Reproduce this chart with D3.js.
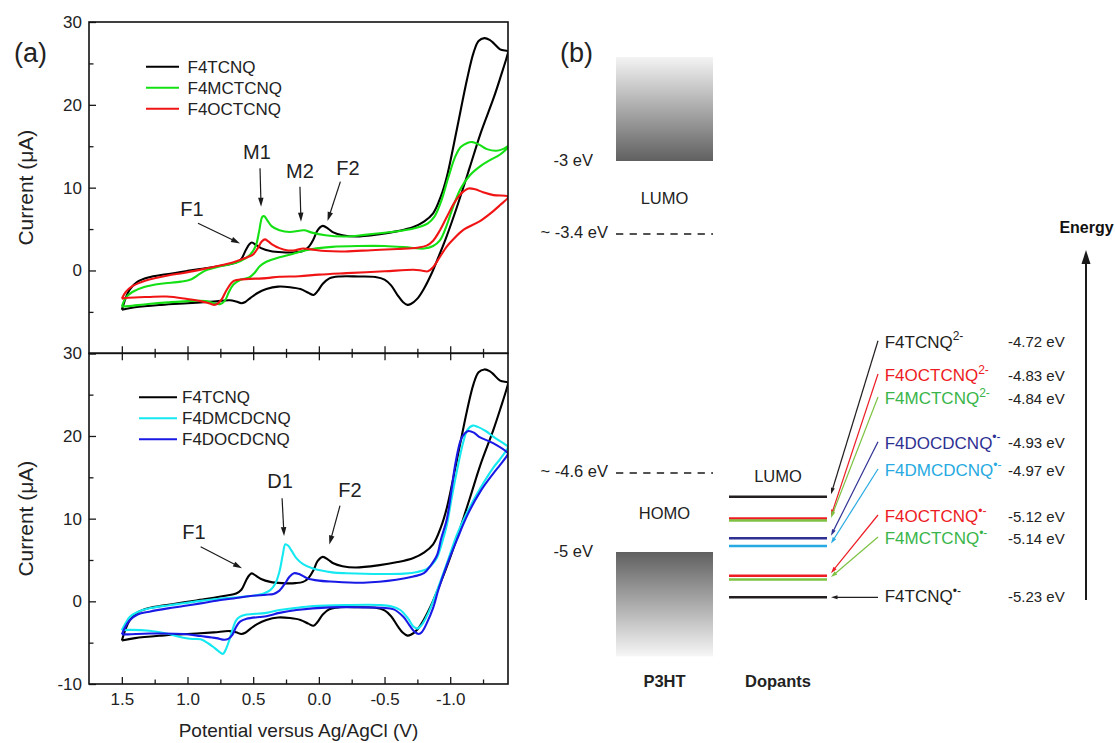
<!DOCTYPE html>
<html><head><meta charset="utf-8">
<script src="https://cdn.jsdelivr.net/npm/d3@7"></script>
<style>
body{margin:0;background:#fff}
svg{display:block}
text{font-family:"Liberation Sans",Arial,Helvetica,sans-serif}
</style>
</head><body>
<svg id="c" width="1115" height="743"></svg>
<script>
// ---------------- DATA ----------------
const xTickValues = [1.5, 1.0, 0.5, 0.0, -0.5, -1.0];
const xTickLabels = ["1.5", "1.0", "0.5", "0.0", "-0.5", "-1.0"];
const xMinorTicks = [1.25, 0.75, 0.25, -0.25, -0.75, -1.25];
const yTickValues = [30, 20, 10, 0, -10];
const yMinorTicks = [25, 15, 5, -5];

// cyclic voltammograms: [potential V, current uA]
const f4tcnqFwd = [[1.50,-4.75],[1.47,-3.3],[1.44,-2.3],[1.38,-1.35],[1.30,-0.85],[1.16,-0.45],[1.00,-0.05],[0.85,0.3],[0.70,0.7],[0.63,0.95],[0.59,1.4],[0.555,2.5],[0.53,3.15],[0.51,3.38],[0.48,3.1],[0.44,2.7],[0.37,2.35],[0.28,2.2],[0.18,2.2],[0.12,2.35],[0.08,2.8],[0.04,3.8],[0.01,4.85],[-0.03,5.38],[-0.07,5.05],[-0.11,4.6],[-0.18,4.25],[-0.28,4.1],[-0.45,4.35],[-0.60,4.75],[-0.72,5.25],[-0.80,5.9],[-0.87,6.9],[-0.93,9.0],[-0.975,11.35],[-1.05,17.0],[-1.127,23.0],[-1.178,26.3],[-1.216,27.7],[-1.26,28.05],[-1.30,27.85],[-1.33,27.45],[-1.38,26.7],[-1.44,26.45]];
const f4tcnqRev = [[-1.44,26.3],[-1.38,23.2],[-1.33,20.8],[-1.23,16.5],[-1.15,12.5],[-1.05,7.6],[-0.97,4.0],[-0.91,1.6],[-0.86,-0.3],[-0.80,-2.2],[-0.75,-3.4],[-0.70,-4.05],[-0.675,-4.15],[-0.64,-3.8],[-0.60,-3.0],[-0.55,-1.8],[-0.50,-1.1],[-0.43,-0.78],[-0.30,-0.72],[-0.16,-0.72],[-0.08,-0.95],[-0.03,-1.6],[0.01,-2.5],[0.04,-2.95],[0.08,-2.7],[0.14,-2.25],[0.22,-2.02],[0.31,-1.95],[0.40,-2.25],[0.47,-2.75],[0.52,-3.3],[0.56,-3.8],[0.59,-3.95],[0.63,-3.75],[0.68,-3.6],[0.80,-3.75],[1.00,-3.95],[1.20,-4.15],[1.40,-4.45],[1.50,-4.75]];

const f4mctcnqFwd = [[1.50,-4.35],[1.47,-3.3],[1.42,-2.6],[1.33,-2.0],[1.20,-1.6],[1.05,-1.35],[0.97,-1.05],[0.91,-0.45],[0.855,0.05],[0.75,0.5],[0.60,1.1],[0.52,1.95],[0.48,3.0],[0.455,4.7],[0.43,6.5],[0.415,6.55],[0.39,6.0],[0.36,5.35],[0.30,4.85],[0.22,4.65],[0.15,4.8],[0.11,4.85],[0.06,4.6],[-0.05,4.25],[-0.20,4.1],[-0.35,4.3],[-0.50,4.55],[-0.65,4.85],[-0.75,5.2],[-0.83,5.7],[-0.88,6.5],[-0.93,8.3],[-0.985,11.2],[-1.04,13.8],[-1.08,14.9],[-1.13,15.4],[-1.17,15.5],[-1.22,15.2],[-1.28,14.65],[-1.35,14.45],[-1.40,14.65],[-1.44,15.0]];
const f4mctcnqRev = [[-1.44,14.95],[-1.38,14.0],[-1.30,13.3],[-1.23,12.6],[-1.15,11.5],[-1.08,9.9],[-1.02,7.6],[-0.97,5.3],[-0.92,3.6],[-0.87,2.95],[-0.80,2.65],[-0.70,2.75],[-0.50,2.95],[-0.30,2.95],[-0.10,2.85],[0.05,2.6],[0.12,2.35],[0.20,2.0],[0.30,1.6],[0.40,1.05],[0.45,0.5],[0.49,-0.3],[0.53,-0.85],[0.60,-1.15],[0.65,-1.7],[0.685,-2.6],[0.715,-3.65],[0.75,-4.05],[0.79,-4.0],[0.86,-3.7],[1.00,-3.7],[1.15,-3.85],[1.30,-4.05],[1.45,-4.3],[1.50,-4.35]];

const f4octcnqFwd = [[1.50,-3.4],[1.47,-2.6],[1.42,-1.9],[1.35,-1.4],[1.29,-1.1],[1.15,-0.6],[1.03,-0.3],[0.90,0.1],[0.78,0.5],[0.65,1.0],[0.56,1.5],[0.50,1.95],[0.465,2.7],[0.435,3.5],[0.41,3.75],[0.385,3.5],[0.35,3.1],[0.30,2.7],[0.245,2.45],[0.18,2.45],[0.12,2.65],[0.06,2.55],[-0.05,2.35],[-0.20,2.3],[-0.40,2.45],[-0.60,2.6],[-0.75,2.75],[-0.82,3.0],[-0.87,3.6],[-0.92,4.8],[-0.975,6.5],[-1.04,8.4],[-1.09,9.4],[-1.14,9.9],[-1.19,9.8],[-1.25,9.45],[-1.33,9.1],[-1.44,8.95]];
const f4octcnqRev = [[-1.44,8.8],[-1.38,7.9],[-1.33,7.2],[-1.23,6.0],[-1.10,4.9],[-1.02,3.7],[-0.975,2.9],[-0.92,1.6],[-0.87,0.4],[-0.83,-0.1],[-0.78,0.0],[-0.72,0.08],[-0.50,-0.1],[-0.21,-0.32],[0.0,-0.5],[0.15,-0.7],[0.30,-0.75],[0.40,-0.92],[0.60,-1.1],[0.65,-1.3],[0.70,-2.3],[0.74,-3.5],[0.77,-4.0],[0.795,-4.15],[0.83,-4.0],[0.90,-3.7],[1.00,-3.45],[1.16,-3.15],[1.30,-3.2],[1.45,-3.3],[1.50,-3.4]];

const f4dmcdcnqFwd = [[1.50,-3.5],[1.47,-2.6],[1.44,-1.9],[1.38,-1.3],[1.29,-0.85],[1.15,-0.5],[1.03,-0.24],[0.90,0.05],[0.78,0.28],[0.65,0.45],[0.52,0.64],[0.42,0.95],[0.37,1.35],[0.33,2.2],[0.30,3.6],[0.275,5.6],[0.255,6.9],[0.235,6.75],[0.207,6.1],[0.17,5.2],[0.12,4.5],[0.05,4.0],[-0.01,3.75],[-0.10,3.5],[-0.21,3.4],[-0.47,3.3],[-0.65,3.35],[-0.75,3.55],[-0.82,3.9],[-0.87,4.6],[-0.90,5.3],[-0.94,7.2],[-0.975,9.3],[-1.01,12.4],[-1.05,15.7],[-1.10,19.3],[-1.13,20.7],[-1.17,21.25],[-1.21,21.1],[-1.27,20.6],[-1.33,19.9],[-1.44,18.7]];
const f4dmcdcnqRev = [[-1.44,18.6],[-1.38,17.2],[-1.33,16.2],[-1.23,13.7],[-1.13,10.8],[-1.05,8.0],[-0.975,4.6],[-0.90,1.3],[-0.85,-0.8],[-0.815,-2.0],[-0.78,-2.9],[-0.75,-3.3],[-0.72,-3.05],[-0.68,-2.1],[-0.62,-1.05],[-0.55,-0.6],[-0.47,-0.45],[-0.21,-0.45],[0.04,-0.57],[0.20,-0.85],[0.30,-1.05],[0.40,-1.4],[0.55,-1.6],[0.60,-1.85],[0.63,-2.3],[0.655,-3.3],[0.68,-4.6],[0.705,-5.7],[0.73,-6.35],[0.75,-6.2],[0.79,-5.7],[0.84,-5.1],[0.90,-4.6],[0.96,-4.55],[1.03,-4.4],[1.16,-3.9],[1.29,-3.55],[1.45,-3.45],[1.50,-3.5]];

const f4docdcnqFwd = [[1.50,-4.0],[1.47,-3.0],[1.44,-2.3],[1.38,-1.6],[1.29,-1.25],[1.15,-0.85],[1.03,-0.57],[0.90,-0.25],[0.78,0.08],[0.65,0.35],[0.52,0.64],[0.40,0.8],[0.345,0.9],[0.30,1.3],[0.26,2.1],[0.225,2.95],[0.19,3.4],[0.15,3.3],[0.09,2.8],[0.0,2.5],[-0.085,2.4],[-0.34,2.25],[-0.59,2.6],[-0.72,3.0],[-0.80,3.4],[-0.85,4.3],[-0.90,5.6],[-0.93,7.5],[-0.975,10.0],[-1.01,13.5],[-1.04,16.7],[-1.08,19.5],[-1.11,20.3],[-1.14,20.6],[-1.18,20.4],[-1.22,19.9],[-1.33,19.1],[-1.44,17.9]];
const f4docdcnqRev = [[-1.44,17.8],[-1.38,16.5],[-1.33,15.5],[-1.23,13.3],[-1.13,10.4],[-1.05,7.4],[-0.975,4.4],[-0.91,1.4],[-0.87,-0.8],[-0.82,-2.7],[-0.785,-3.7],[-0.76,-3.95],[-0.73,-3.7],[-0.69,-2.9],[-0.645,-1.9],[-0.57,-0.97],[-0.48,-0.78],[-0.34,-0.73],[-0.085,-0.73],[0.17,-1.05],[0.30,-1.4],[0.40,-1.8],[0.55,-2.1],[0.60,-2.45],[0.63,-3.1],[0.66,-4.1],[0.69,-4.55],[0.72,-4.65],[0.78,-4.45],[0.90,-4.2],[1.03,-3.95],[1.29,-3.9],[1.45,-4.0],[1.50,-4.0]];

const topLegend = ["F4TCNQ", "F4MCTCNQ", "F4OCTCNQ"];
const bottomLegend = ["F4TCNQ", "F4DMCDCNQ", "F4DOCDCNQ"];

// annotations: label, text position (V, I), arrow start (V, I), arrow end (V, I)
const topNotes = [
  ["F1", 0.966, 6.58, 0.92, 5.70, 0.600, 3.26],
  ["M1", 0.471, 13.42, 0.448, 12.34, 0.440, 7.70],
  ["M2", 0.144, 11.13, 0.144, 10.11, 0.136, 5.89],
  ["F2", -0.222, 11.53, -0.164, 10.72, -0.066, 5.97]
];
const bottomNotes = [
  ["F1", 0.951, 7.54, 0.900, 6.61, 0.585, 4.00],
  ["D1", 0.296, 13.74, 0.280, 12.46, 0.265, 7.90],
  ["F2", -0.237, 12.58, -0.161, 11.57, -0.080, 6.87]
];

// energy diagram (eV)
const p3htLevels = [-3, -3.4, -4.6, -5];
const p3htLevelLabels = ["-3 eV", "~ -3.4 eV", "~ -4.6 eV", "-5 eV"];
const p3htBands = [[-2.43, -3.0], [-5.0, -5.53]];
const dopantNames = ["F4TCNQ", "F4OCTCNQ", "F4MCTCNQ", "F4DOCDCNQ", "F4DMCDCNQ", "F4OCTCNQ", "F4MCTCNQ", "F4TCNQ"];
const dopantCharges = ["2-", "2-", "2-", "\u2022-", "\u2022-", "\u2022-", "\u2022-", "\u2022-"];
const dopantLevels = [-4.72, -4.83, -4.84, -4.93, -4.97, -5.12, -5.14, -5.23];
const dopantValueLabels = ["-4.72 eV", "-4.83 eV", "-4.84 eV", "-4.93 eV", "-4.97 eV", "-5.12 eV", "-5.14 eV", "-5.23 eV"];

// ---------------- STYLE / LAYOUT ----------------
const cvColors = {F4TCNQ:"#000000", F4MCTCNQ:"#14e014", F4OCTCNQ:"#f01414", F4DMCDCNQ:"#14e8f0", F4DOCDCNQ:"#1a1ae6"};
const dopTextColors = ["#231f20","#ed1c24","#39b54a","#2e3192","#27aae1","#ed1c24","#39b54a","#231f20"];
const dopLineColors = ["#231f20","#ed1c24","#7dc242","#2e3192","#27aae1","#ed1c24","#7dc242","#231f20"];
const dopLabelCenterY = [341.7, 375, 398, 442.7, 470, 516, 538, 596];
const FONT = '"Liberation Sans", Arial, Helvetica, sans-serif';

const svg = d3.select("#c");
svg.append("rect").attr("width",1115).attr("height",743).attr("fill","#fff");
const defs = svg.append("defs");

const plotLeft = 89, plotRight = 508;
const x = d3.scaleLinear().domain([1.75, -1.44]).range([plotLeft, plotRight]);
const yTop = d3.scaleLinear().domain([-10, 30]).range([353.3, 22]);
const yBot = d3.scaleLinear().domain([-10, 30]).range([684, 353.3]);

function styleAxis(g, fs) {
  g.attr("font-family", null).attr("font-size", null);
  g.select(".domain").remove();
  g.selectAll(".tick line").attr("stroke", "#1a1a1a").attr("stroke-width", 1.3);
  g.selectAll(".tick text").attr("fill", "#222").style("font-size", fs + "px").style("font-family", FONT);
}

function arrow(g, x1, y1, x2, y2, color, len, wid, sw) {
  const a = Math.atan2(y2 - y1, x2 - x1);
  const bx = x2 - len * Math.cos(a), by = y2 - len * Math.sin(a);
  g.append("line").attr("x1", x1).attr("y1", y1).attr("x2", bx + 0.5*Math.cos(a)).attr("y2", by + 0.5*Math.sin(a))
    .attr("stroke", color).attr("stroke-width", sw);
  const px = -Math.sin(a) * wid / 2, py = Math.cos(a) * wid / 2;
  g.append("path").attr("d", `M${x2},${y2}L${bx+px},${by+py}L${bx-px},${by-py}Z`).attr("fill", color);
}

const curvesTop = [
  {name:"F4TCNQ", data:f4tcnqFwd.concat(f4tcnqRev)},
  {name:"F4MCTCNQ", data:f4mctcnqFwd.concat(f4mctcnqRev)},
  {name:"F4OCTCNQ", data:f4octcnqFwd.concat(f4octcnqRev)}
];
const curvesBot = [
  {name:"F4TCNQ", data:f4tcnqFwd.concat(f4tcnqRev)},
  {name:"F4DMCDCNQ", data:f4dmcdcnqFwd.concat(f4dmcdcnqRev)},
  {name:"F4DOCDCNQ", data:f4docdcnqFwd.concat(f4docdcnqRev)}
];

function panel(yS, id, curves, legend, legendLayout, notes, isTop) {
  const g = svg.append("g");
  defs.append("clipPath").attr("id", id).append("rect")
    .attr("x", plotLeft).attr("y", yS(30)).attr("width", plotRight - plotLeft).attr("height", yS(-10) - yS(30));
  const line = d3.line().x(d => x(d[0])).y(d => yS(d[1])).curve(d3.curveCatmullRom.alpha(0.5));
  const cg = g.append("g").attr("clip-path", `url(#${id})`);
  curves.forEach(c => cg.append("path").attr("d", line(c.data)).attr("fill", "none")
    .attr("stroke", cvColors[c.name]).attr("stroke-width", 2.1).attr("stroke-linejoin", "round"));

  // left axis
  const la = g.append("g").attr("transform", `translate(${plotLeft},0)`)
    .call(d3.axisLeft(yS).tickValues(yTickValues).tickSize(-7).tickPadding(7)
      .tickFormat(d => (isTop && d === -10) ? "" : d));
  styleAxis(la, 17);
  const lm = g.append("g").attr("transform", `translate(${plotLeft},0)`)
    .call(d3.axisLeft(yS).tickValues(yMinorTicks).tickSize(-4.5).tickFormat(""));
  styleAxis(lm, 17);
  // bottom axis
  const ba = g.append("g").attr("transform", `translate(0,${yS(-10)})`)
    .call(d3.axisBottom(x).tickValues(xTickValues).tickSize(-7).tickPadding(9)
      .tickFormat((d, i) => isTop ? "" : xTickLabels[i]));
  styleAxis(ba, 17);
  const bm = g.append("g").attr("transform", `translate(0,${yS(-10)})`)
    .call(d3.axisBottom(x).tickValues(xMinorTicks).tickSize(-4.5).tickFormat(""));
  styleAxis(bm, 17);
  if (!isTop) {
    const ta = g.append("g").attr("transform", `translate(0,${yS(30)})`)
      .call(d3.axisTop(x).tickValues(xTickValues).tickSize(-7).tickFormat(""));
    styleAxis(ta, 17);
    const tm = g.append("g").attr("transform", `translate(0,${yS(30)})`)
      .call(d3.axisTop(x).tickValues(xMinorTicks).tickSize(-4.5).tickFormat(""));
    styleAxis(tm, 17);
  }
  // frame
  g.append("rect").attr("x", plotLeft).attr("y", yS(30)).attr("width", plotRight - plotLeft)
    .attr("height", yS(-10) - yS(30)).attr("fill", "none").attr("stroke", "#111").attr("stroke-width", 1.6);

  // legend
  legend.forEach((name, i) => {
    const ly = legendLayout.y0 + i * 21;
    g.append("line").attr("x1", legendLayout.x1).attr("x2", legendLayout.x2).attr("y1", ly).attr("y2", ly)
      .attr("stroke", cvColors[name]).attr("stroke-width", 2.1);
    g.append("text").attr("x", legendLayout.tx).attr("y", ly + 6).text(name)
      .style("font-size", "17px").attr("fill", "#222");
  });

  // annotations
  notes.forEach(n => {
    g.append("text").attr("x", x(n[1])).attr("y", yS(n[2])).attr("text-anchor", "middle")
      .text(n[0]).style("font-size", "20px").attr("fill", "#222");
    arrow(g, x(n[3]), yS(n[4]), x(n[5]), yS(n[6]), "#1a1a1a", 9, 5.5, 1.2);
  });

  // y title
  const cy = (yS(30) + yS(-10)) / 2;
  g.append("text").attr("transform", `translate(33,${cy}) rotate(-90)`).attr("text-anchor", "middle")
    .text("Current (\u03bcA)").style("font-size", "21px").attr("fill", "#222");
}

panel(yTop, "clipTop", curvesTop, topLegend, {x1:146, x2:179, y0:66.7, tx:187.5}, topNotes, true);
panel(yBot, "clipBot", curvesBot, bottomLegend, {x1:139, x2:177, y0:397.3, tx:182}, bottomNotes, false);

svg.append("text").attr("x", (plotLeft + plotRight) / 2).attr("y", 737).attr("text-anchor", "middle")
  .text("Potential versus Ag/AgCl (V)").style("font-size", "19px").attr("fill", "#222");
svg.append("text").attr("x", 14).attr("y", 61.5).text("(a)").style("font-size", "27px").attr("fill", "#222");
svg.append("text").attr("x", 560).attr("y", 61.5).text("(b)").style("font-size", "27px").attr("fill", "#222");

// ---------------- ENERGY DIAGRAM ----------------
const e = d3.scaleLinear().domain([-3, -3.4, -4.6, -5, -5.23]).range([161, 234, 473, 552, 597.3]);
const gE = svg.append("g");
const bandL = 616, bandR = 713, dopL = 729, dopR = 827;

const lg = defs.append("linearGradient").attr("id", "gLumo").attr("x1", 0).attr("y1", 0).attr("x2", 0).attr("y2", 1);
lg.append("stop").attr("offset", 0).attr("stop-color", "#f4f4f4");
lg.append("stop").attr("offset", 1).attr("stop-color", "#606060");
const hg = defs.append("linearGradient").attr("id", "gHomo").attr("x1", 0).attr("y1", 0).attr("x2", 0).attr("y2", 1);
hg.append("stop").attr("offset", 0).attr("stop-color", "#606060");
hg.append("stop").attr("offset", 1).attr("stop-color", "#f6f6f6");

gE.append("rect").attr("x", bandL).attr("width", bandR - bandL).attr("y", e(p3htBands[0][0]))
  .attr("height", e(p3htBands[0][1]) - e(p3htBands[0][0])).attr("fill", "url(#gLumo)");
gE.append("rect").attr("x", bandL).attr("width", bandR - bandL).attr("y", e(p3htBands[1][0]))
  .attr("height", e(p3htBands[1][1]) - e(p3htBands[1][0])).attr("fill", "url(#gHomo)");

// dashed levels
[1, 2].forEach(i => {
  gE.append("line").attr("x1", bandL).attr("x2", bandR).attr("y1", e(p3htLevels[i])).attr("y2", e(p3htLevels[i]))
    .attr("stroke", "#1a1a1a").attr("stroke-width", 1.6).attr("stroke-dasharray", "7.3,6.3");
});
// level labels
p3htLevels.forEach((v, i) => {
  const dashed = (i === 1 || i === 2);
  gE.append("text").attr("x", dashed ? 608 : 593).attr("y", e(v) + (dashed ? 4 : 5))
    .attr("text-anchor", "end").text(p3htLevelLabels[i]).style("font-size", "16.5px").attr("fill", "#222");
});
gE.append("text").attr("x", (bandL + bandR) / 2).attr("y", 204).attr("text-anchor", "middle")
  .text("LUMO").style("font-size", "16.5px").attr("fill", "#222");
gE.append("text").attr("x", (bandL + bandR) / 2).attr("y", 519.3).attr("text-anchor", "middle")
  .text("HOMO").style("font-size", "16.5px").attr("fill", "#222");
gE.append("text").attr("x", (dopL + dopR) / 2).attr("y", 482.3).attr("text-anchor", "middle")
  .text("LUMO").style("font-size", "16.5px").attr("fill", "#222");
gE.append("text").attr("x", (bandL + bandR) / 2).attr("y", 686.5).attr("text-anchor", "middle")
  .text("P3HT").style("font-size", "16.5px").style("font-weight", "bold").attr("fill", "#222");
gE.append("text").attr("x", (dopL + dopR) / 2).attr("y", 686.5).attr("text-anchor", "middle")
  .text("Dopants").style("font-size", "16.5px").style("font-weight", "bold").attr("fill", "#222");

// dopant levels, labels and arrows
dopantLevels.forEach((v, i) => {
  gE.append("line").attr("x1", dopL).attr("x2", dopR).attr("y1", e(v)).attr("y2", e(v))
    .attr("stroke", dopLineColors[i]).attr("stroke-width", 2.5);
  const cyL = dopLabelCenterY[i];
  const t = gE.append("text").attr("x", 884.7).attr("y", cyL + 6).attr("fill", dopTextColors[i]).style("font-size", "17px");
  t.append("tspan").text(dopantNames[i]);
  t.append("tspan").attr("dy", -7.5).style("font-size", "12px").text(dopantCharges[i]);
  gE.append("text").attr("x", 1008).attr("y", cyL + 5.5).text(dopantValueLabels[i])
    .style("font-size", "15px").attr("fill", "#222");
  const tipY = (i === dopantLevels.length - 1) ? e(v) : e(v) - 2.5;
  const startY = (i === dopantLevels.length - 1) ? e(v) : cyL - 1;
  arrow(gE, 878, startY, 831, tipY, dopLineColors[i], 6.5, 4, 1.2);
});

// energy arrow
arrow(gE, 1086, 600, 1086, 250, "#1a1a1a", 14, 9, 2);
gE.append("text").attr("x", 1086.5).attr("y", 233).attr("text-anchor", "middle").text("Energy")
  .style("font-size", "16px").style("font-weight", "bold").attr("fill", "#111");
</script>
</body></html>
